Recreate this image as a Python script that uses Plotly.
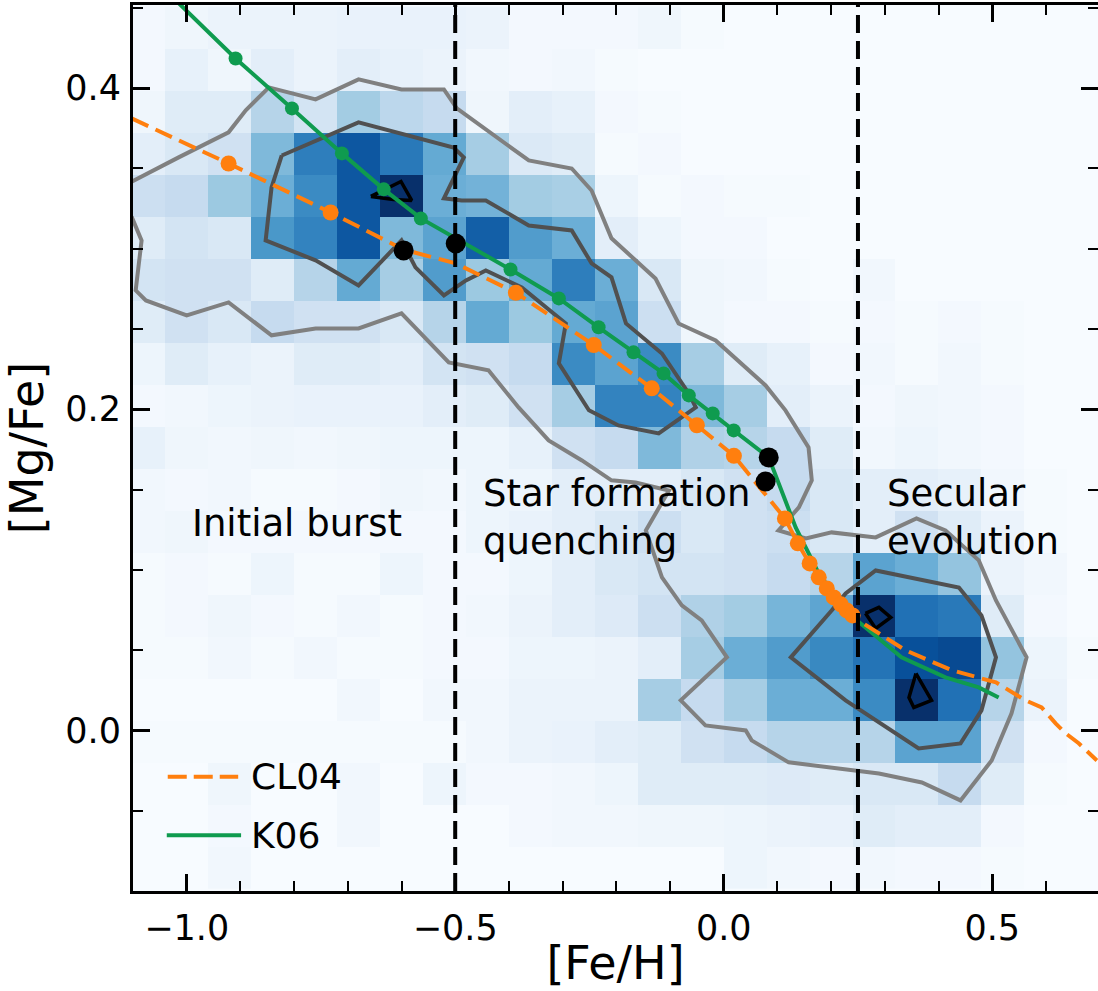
import plotly.graph_objects as go

# ---------------- data ----------------
# 2D histogram bin centres
feh_bins = [-1.08, -1.00, -0.92, -0.84, -0.76, -0.68, -0.60, -0.52, -0.44, -0.36, -0.28, -0.20,
            -0.12, -0.04, 0.04, 0.12, 0.20, 0.28, 0.36, 0.44, 0.52, 0.60, 0.68]
mgfe_bins = [-0.0854, -0.0593, -0.0331, -0.0070, 0.0192, 0.0453, 0.0715, 0.0976, 0.1238, 0.1499,
             0.1761, 0.2022, 0.2284, 0.2545, 0.2807, 0.3068, 0.3330, 0.3591, 0.3853, 0.4114, 0.4376]
# normalised density (rows from low [Mg/Fe] to high)
density = [
    [0, 0, 0.03, 0, 0, 0, 0, 0, 0, 0, 0, 0, 0, 0, 0.05, 0.03, 0.02, 0.03, 0.02, 0.02, 0.01, 0, 0],
    [0, 0, 0.02, 0, 0, 0.03, 0, 0, 0, 0.02, 0.03, 0.03, 0.04, 0.04, 0.05, 0.06, 0.07, 0.12, 0.10, 0.10, 0.02, 0, 0],
    [0, 0, 0.04, 0, 0, 0.03, 0, 0.05, 0.02, 0.02, 0.03, 0.05, 0.12, 0.12, 0.12, 0.13, 0.12, 0.15, 0.15, 0.25, 0.12, 0.01, 0],
    [0.01, 0.01, 0.01, 0.01, 0.01, 0.01, 0.01, 0.01, 0.03, 0.06, 0.07, 0.10, 0.12, 0.20, 0.25, 0.30, 0.30, 0.30, 0.55, 0.55, 0.20, 0.02, 0],
    [0, 0, 0, 0, 0, 0.03, 0, 0.03, 0.03, 0.06, 0.06, 0.06, 0.35, 0.25, 0.35, 0.50, 0.50, 0.65, 1.00, 0.75, 0.30, 0.06, 0],
    [0.01, 0.01, 0.03, 0.01, 0.03, 0.01, 0.01, 0.02, 0.02, 0.05, 0.05, 0.06, 0.10, 0.35, 0.50, 0.58, 0.66, 0.74, 0.88, 0.90, 0.40, 0.05, 0.01],
    [0.01, 0.02, 0.04, 0.02, 0.01, 0.03, 0.01, 0.02, 0.03, 0.06, 0.10, 0.13, 0.22, 0.32, 0.36, 0.47, 0.54, 1.00, 0.75, 0.72, 0.12, 0.02, 0],
    [0.01, 0.02, 0.01, 0.05, 0.01, 0.01, 0.05, 0.02, 0.02, 0.05, 0.10, 0.15, 0.18, 0.18, 0.20, 0.25, 0.30, 0.55, 0.50, 0.40, 0.06, 0.03, 0],
    [0.03, 0.04, 0.02, 0.02, 0.02, 0.02, 0.02, 0.02, 0.05, 0.07, 0.10, 0.15, 0.22, 0.15, 0.20, 0.22, 0.15, 0.10, 0.20, 0.12, 0.06, 0.01, 0],
    [0.03, 0.02, 0.03, 0.01, 0.01, 0.02, 0.04, 0.03, 0.05, 0.05, 0.10, 0.10, 0.10, 0.15, 0.20, 0.25, 0.15, 0.10, 0.10, 0.08, 0.03, 0.01, 0],
    [0.08, 0.04, 0.03, 0.04, 0.03, 0.04, 0.05, 0.05, 0.05, 0.08, 0.20, 0.25, 0.45, 0.32, 0.30, 0.25, 0.12, 0.03, 0.05, 0.03, 0.02, 0, 0],
    [0.02, 0.03, 0.05, 0.06, 0.07, 0.07, 0.07, 0.10, 0.12, 0.20, 0.35, 0.68, 0.68, 0.45, 0.35, 0.10, 0.06, 0.02, 0.04, 0.03, 0.02, 0, 0],
    [0.05, 0.12, 0.08, 0.06, 0.12, 0.12, 0.10, 0.18, 0.20, 0.25, 0.65, 0.55, 0.65, 0.35, 0.12, 0.08, 0.02, 0.03, 0.01, 0.03, 0.01, 0, 0],
    [0.12, 0.20, 0.15, 0.25, 0.20, 0.20, 0.15, 0.30, 0.52, 0.38, 0.52, 0.55, 0.22, 0.04, 0.02, 0.02, 0.01, 0.02, 0.01, 0.02, 0.01, 0, 0],
    [0.18, 0.20, 0.20, 0.12, 0.30, 0.52, 0.35, 0.58, 0.38, 0.52, 0.70, 0.50, 0.15, 0.04, 0.03, 0.01, 0, 0.03, 0, 0, 0, 0, 0],
    [0.12, 0.18, 0.15, 0.60, 0.68, 0.85, 0.45, 0.55, 0.82, 0.58, 0.50, 0.10, 0.05, 0.02, 0.02, 0, 0, 0, 0, 0, 0, 0, 0],
    [0.22, 0.25, 0.38, 0.50, 0.65, 0.85, 1.00, 0.50, 0.48, 0.36, 0.34, 0.05, 0.01, 0.02, 0.01, 0.01, 0, 0, 0, 0, 0, 0, 0],
    [0.10, 0.15, 0.20, 0.45, 0.70, 0.85, 0.72, 0.52, 0.35, 0.14, 0.12, 0.01, 0.02, 0, 0, 0, 0, 0, 0, 0, 0, 0, 0],
    [0.04, 0.12, 0.12, 0.30, 0.18, 0.36, 0.28, 0.25, 0.04, 0.10, 0.08, 0.02, 0.01, 0, 0, 0, 0, 0, 0, 0, 0, 0, 0],
    [0.02, 0.08, 0.04, 0.10, 0.06, 0.10, 0.08, 0.06, 0.03, 0.02, 0.03, 0.01, 0, 0, 0, 0, 0, 0, 0, 0, 0, 0, 0],
    [0.02, 0.04, 0.06, 0.06, 0.06, 0.07, 0.07, 0.07, 0.06, 0.02, 0.02, 0.02, 0.04, 0.01, 0, 0, 0, 0, 0, 0, 0, 0, 0],
]

# density contours (outer, middle, inner)
outer_x = [-1.127, -1.112, -1.015, -0.922, -0.890, -0.847, -0.760, -0.680, -0.600, -0.521, -0.497,
           -0.363, -0.283, -0.246, -0.209, -0.127, -0.084, -0.015, 0.078, 0.115, 0.158, 0.164, 0.140,
           0.102, 0.153, 0.201, 0.283, 0.359, 0.413, 0.475, 0.507, 0.564, 0.536, 0.499, 0.441, 0.369,
           0.289, 0.201, 0.121, 0.052, 0.041, -0.034, -0.080, 0.006, -0.041, -0.078, -0.115, -0.145,
           -0.102, -0.164, -0.209, -0.264, -0.326, -0.382, -0.438, -0.512, -0.600, -0.680, -0.760,
           -0.842, -0.922, -1.000, -1.076, -1.095, -1.084, -1.102, -1.117, -1.127, -1.127]
outer_y = [0.340, 0.340, 0.3568, 0.3724, 0.3861, 0.4004, 0.3929, 0.4054, 0.3991, 0.3991, 0.3873,
           0.3549, 0.3499, 0.3362, 0.3064, 0.2814, 0.2534, 0.2428, 0.2148, 0.1993, 0.1762, 0.1557, 0.1389,
           0.1245, 0.1196, 0.1233, 0.1202, 0.1320, 0.1245, 0.1059, 0.0809, 0.0455, 0.0106, -0.0187, -0.0436, -0.0324,
           -0.0268, -0.0230, -0.0199, -0.0062, 0.0, 0.0031, 0.0187, 0.0455, 0.0685, 0.0778, 0.0953, 0.1245,
           0.1494, 0.1544, 0.1557, 0.1681, 0.1806, 0.2011, 0.2242, 0.2291, 0.2597, 0.2503, 0.2503,
           0.2460, 0.2665, 0.2584, 0.2677, 0.2740, 0.3051, 0.3194, 0.3225, 0.3225, 0.340]

mid1_x = [-0.823, -0.680, -0.503, -0.484, -0.521, -0.488, -0.443, -0.363, -0.283, -0.246, -0.209, -0.182,
          -0.115, -0.065, -0.052, -0.121, -0.196, -0.251, -0.307, -0.294, -0.376, -0.443, -0.480, -0.521,
          -0.574, -0.600, -0.680, -0.760, -0.853, -0.842, -0.823]
mid1_y = [0.3580, 0.3786, 0.3630, 0.3568, 0.3313, 0.3300, 0.3300, 0.3144, 0.3113, 0.2908, 0.2821, 0.2534,
          0.2347, 0.2098, 0.2011, 0.1849, 0.1899, 0.1993, 0.2285, 0.2534, 0.2758, 0.2864, 0.2802, 0.2709,
          0.2883, 0.3051, 0.2771, 0.2927, 0.3051, 0.3381, 0.3580]
mid2_x = [0.201, 0.227, 0.283, 0.438, 0.480, 0.507, 0.480, 0.441, 0.363, 0.227, 0.125, 0.201]
mid2_y = [0.0747, 0.0853, 0.0996, 0.0890, 0.0716, 0.0455, 0.0125, -0.0081, -0.0112, 0.0187, 0.0455, 0.0747]

inner1_x = [-0.657, -0.601, -0.581, -0.615, -0.657]
inner1_y = [0.3325, 0.3418, 0.3300, 0.3306, 0.3325]
inner2_x = [0.264, 0.289, 0.311, 0.283, 0.264]
inner2_y = [0.0729, 0.0766, 0.0704, 0.0635, 0.0729]
inner3_x = [0.358, 0.387, 0.354, 0.345, 0.358]
inner3_y = [0.0355, 0.0187, 0.0143, 0.0205, 0.0355]

# CL04 chemical evolution track
cl04_line_x = [-1.102, -0.922, -0.732, -0.596, -0.499, -0.387, -0.242, -0.134, -0.050, 0.019, 0.114,
               0.138, 0.160, 0.177, 0.192, 0.205, 0.218, 0.229, 0.240, 0.251, 0.339, 0.425, 0.507,
               0.562, 0.592, 0.618, 0.637, 0.661, 0.695]
cl04_line_y = [0.381, 0.353, 0.3225, 0.2994, 0.2908, 0.2725, 0.240, 0.213, 0.190, 0.171, 0.132,
               0.1165, 0.104, 0.0953, 0.0884, 0.0828, 0.0785, 0.0747, 0.0716, 0.0685, 0.0498, 0.0374, 0.0299,
               0.0187, 0.0143, 0.0044, -0.0019, -0.008, -0.0187]
cl04_pts_x = [-0.922, -0.732, -0.387, -0.242, -0.134, -0.050, 0.019, 0.114, 0.138, 0.160, 0.177,
              0.192, 0.205, 0.218, 0.229, 0.240]
cl04_pts_y = [0.353, 0.3225, 0.2725, 0.240, 0.213, 0.190, 0.171, 0.132, 0.1165, 0.104, 0.0953,
              0.0884, 0.0828, 0.0785, 0.0747, 0.0716]

# K06 chemical evolution track
k06_line_x = [-1.020, -0.909, -0.804, -0.711, -0.633, -0.564, -0.397, -0.307, -0.233, -0.168, -0.112,
              -0.065, -0.0205, 0.0186, 0.0838, 0.1155, 0.134, 0.177, 0.227, 0.255, 0.331, 0.413, 0.475, 0.512]
k06_line_y = [0.4545, 0.4184, 0.3873, 0.3593, 0.3369, 0.3188, 0.2870, 0.269, 0.251, 0.2354, 0.2223,
              0.2086, 0.1974, 0.1868, 0.170, 0.1432, 0.1264, 0.0978, 0.0747, 0.0666, 0.0455, 0.033, 0.0268, 0.0205]
k06_pts_x = [-0.909, -0.804, -0.711, -0.633, -0.564, -0.397, -0.307, -0.233, -0.168, -0.112,
             -0.065, -0.0205, 0.0186]
k06_pts_y = [0.4184, 0.3873, 0.3593, 0.3369, 0.3188, 0.2870, 0.269, 0.251, 0.2354, 0.2223,
             0.2086, 0.1974, 0.1868]

# transition points
trans_x = [-0.596, -0.499, 0.0838, 0.078]
trans_y = [0.2989, 0.3032, 0.170, 0.155]

phase_boundaries = [-0.5, 0.25]
phase_labels = ["Initial burst", "Star formation<br>quenching", "Secular<br>evolution"]
phase_label_x = [-0.795, -0.452, 0.300]
phase_label_y = [0.129, 0.1326, 0.1326]

legend_names = ["CL04", "K06"]

# ---------------- styling ----------------
ORANGE = "#ff7f0e"
GREEN = "#0f9b4f"
FONT = "DejaVu Sans"
blues = [[0.0, "#f7fbff"], [0.125, "#deebf7"], [0.25, "#c6dbef"], [0.375, "#9ecae1"],
         [0.5, "#6baed6"], [0.625, "#4292c6"], [0.75, "#2171b5"], [0.875, "#08519c"], [1.0, "#08306b"]]

fig = go.Figure()

fig.add_trace(go.Heatmap(x=feh_bins, y=mgfe_bins, z=density, colorscale=blues, zmin=0, zmax=1,
                         showscale=False, hoverinfo="skip"))

for cx, cy, col, w in [(outer_x, outer_y, "#808080", 4),
                       (mid1_x, mid1_y, "#505050", 4),
                       (mid2_x, mid2_y, "#505050", 4),
                       (inner1_x, inner1_y, "black", 3.5),
                       (inner2_x, inner2_y, "black", 3.5),
                       (inner3_x, inner3_y, "black", 3.5)]:
    fig.add_trace(go.Scatter(x=cx, y=cy, mode="lines", line=dict(color=col, width=w),
                             showlegend=False, hoverinfo="skip"))

fig.add_trace(go.Scatter(x=k06_line_x, y=k06_line_y, mode="lines", name="K06",
                         line=dict(color=GREEN, width=4), showlegend=False))
fig.add_trace(go.Scatter(x=k06_pts_x, y=k06_pts_y, mode="markers",
                         marker=dict(color=GREEN, size=14), showlegend=False))
fig.add_trace(go.Scatter(x=cl04_line_x, y=cl04_line_y, mode="lines", name="CL04",
                         line=dict(color=ORANGE, width=4, dash="18px,8px"), showlegend=False))
fig.add_trace(go.Scatter(x=cl04_pts_x, y=cl04_pts_y, mode="markers",
                         marker=dict(color=ORANGE, size=16), showlegend=False))
fig.add_trace(go.Scatter(x=trans_x, y=trans_y, mode="markers",
                         marker=dict(color="black", size=20), showlegend=False))

shapes = []
for xb in phase_boundaries:
    shapes.append(dict(type="line", xref="x", yref="paper", x0=xb, x1=xb, y0=0, y1=1,
                       line=dict(color="black", width=4, dash="18px,8px"), layer="above"))
# manual legend samples
shapes.append(dict(type="line", xref="paper", yref="paper", x0=0.036, x1=0.109, y0=0.129, y1=0.129,
                   line=dict(color=ORANGE, width=4, dash="19px,7px")))
shapes.append(dict(type="line", xref="paper", yref="paper", x0=0.035, x1=0.112, y0=0.063, y1=0.063,
                   line=dict(color=GREEN, width=4)))

annotations = []
for txt, ax_, ay_, anc in zip(phase_labels, phase_label_x, phase_label_y, ["center", "left", "left"]):
    annotations.append(dict(text=txt, x=ax_, y=ay_, xref="x", yref="y", xanchor=anc, yanchor="middle",
                            align="left", showarrow=False, font=dict(size=37, color="black", family=FONT)))
for name, ly in zip(legend_names, [0.129, 0.063]):
    annotations.append(dict(text=name, x=0.120, y=ly, xref="paper", yref="paper", xanchor="left",
                            yanchor="middle", showarrow=False, font=dict(size=36, color="black", family=FONT)))

axis_common = dict(showline=True, linecolor="black", linewidth=3, mirror="ticks", ticks="inside",
                   ticklen=17, tickwidth=2.5, tickcolor="black", showgrid=False, zeroline=False,
                   tickfont=dict(size=35, color="black", family=FONT), tickformat=".1f",
                   automargin=False)

fig.update_layout(
    width=1098, height=991,
    margin=dict(l=133, r=0, t=5, b=100),
    paper_bgcolor="white", plot_bgcolor="#f7fbff",
    font=dict(family=FONT, color="black"),
    showlegend=False,
    shapes=shapes, annotations=annotations,
    xaxis=dict(range=[-1.1, 0.697], tick0=0, dtick=0.5,
               minor=dict(dtick=0.1, tick0=0, ticks="inside", ticklen=10, tickwidth=2, tickcolor="black"),
               title=dict(text="[Fe/H]", font=dict(size=46, family=FONT), standoff=0),
               ticklabelstandoff=4, **axis_common),
    yaxis=dict(range=[-0.1, 0.4517], tick0=0, dtick=0.2,
               minor=dict(dtick=0.05, tick0=0, ticks="inside", ticklen=10, tickwidth=2, tickcolor="black"),
               title=dict(text="[Mg/Fe]", font=dict(size=46, family=FONT), standoff=8),
               ticklabelstandoff=2, **axis_common),
)

fig.write_html("out.html", config={"displayModeBar": False},
               post_script="document.body.style.margin='0';document.body.style.overflow='hidden';")
